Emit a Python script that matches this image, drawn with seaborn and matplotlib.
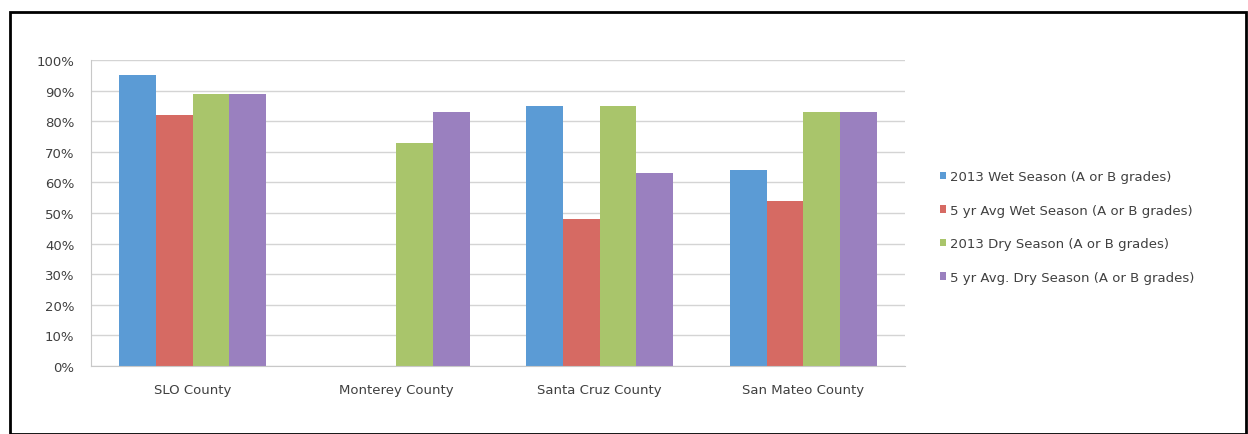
import pandas as pd
import numpy as np
import matplotlib
matplotlib.use("Agg")
import matplotlib.pyplot as plt
import seaborn as sns
from matplotlib.patches import Rectangle
from matplotlib.ticker import PercentFormatter

counties = ["SLO County", "Monterey County", "Santa Cruz County", "San Mateo County"]
series = ["2013 Wet Season (A or B grades)",
          "5 yr Avg Wet Season (A or B grades)",
          "2013 Dry Season (A or B grades)",
          "5 yr Avg. Dry Season (A or B grades)"]
wet_2013 = [95, np.nan, 85, 64]
wet_5yr = [82, np.nan, 48, 54]
dry_2013 = [89, 73, 85, 83]
dry_5yr = [89, 83, 63, 83]
colors = ["#5b9bd5", "#d66a63", "#a9c56b", "#9a80bf"]

rows = []
for s, vals in zip(series, [wet_2013, wet_5yr, dry_2013, dry_5yr]):
    for c, v in zip(counties, vals):
        rows.append({"County": c, "Series": s, "Value": v})
df = pd.DataFrame(rows)

sns.set_style("white")
plt.rcParams["font.family"] = ["DejaVu Sans"]

fig = plt.figure(figsize=(12.48, 4.35), dpi=100)
ax = fig.add_axes([91 / 1248, 68 / 435, 814 / 1248, 306 / 435])

sns.barplot(data=df, x="County", y="Value", hue="Series", hue_order=series,
            order=counties, palette=colors, width=0.72, saturation=1,
            linewidth=0, ax=ax, legend=True)

ax.set_ylim(0, 100)
ax.set_xlim(-0.5, 3.5)
ax.set_yticks(range(0, 101, 10))
ax.yaxis.set_major_formatter(PercentFormatter(decimals=0))
ax.yaxis.grid(True, color="#d4d4d4", linewidth=1)
ax.set_axisbelow(True)
ax.set_xlabel("")
ax.set_ylabel("")
for side in ["top", "right"]:
    ax.spines[side].set_visible(False)
ax.spines["left"].set_color("#c8c8c8")
ax.spines["bottom"].set_color("#c8c8c8")
ax.tick_params(axis="both", labelsize=9.5, colors="#404040", length=0)
ax.tick_params(axis="y", length=4, color="#c8c8c8", pad=8)
ax.tick_params(axis="x", pad=12)
ax.set_xticks([0.5, 1.5, 2.5], minor=True)
ax.tick_params(axis="x", which="minor", length=4, color="#c8c8c8")

handles, labels = ax.get_legend_handles_labels()
ax.legend(handles, labels, loc="center left", bbox_to_anchor=(928 / 1248, 207 / 435),
          bbox_transform=fig.transFigure, frameon=False, fontsize=9.5,
          handlelength=0.5, handleheight=0.5, handletextpad=0.3, labelspacing=1.55,
          labelcolor="#404040")

fig.patches.append(Rectangle((10 / 1248, 0), 1236 / 1248, 422 / 435,
                             transform=fig.transFigure, fill=False,
                             edgecolor="black", linewidth=2))

fig.savefig("out.png", dpi=100)
